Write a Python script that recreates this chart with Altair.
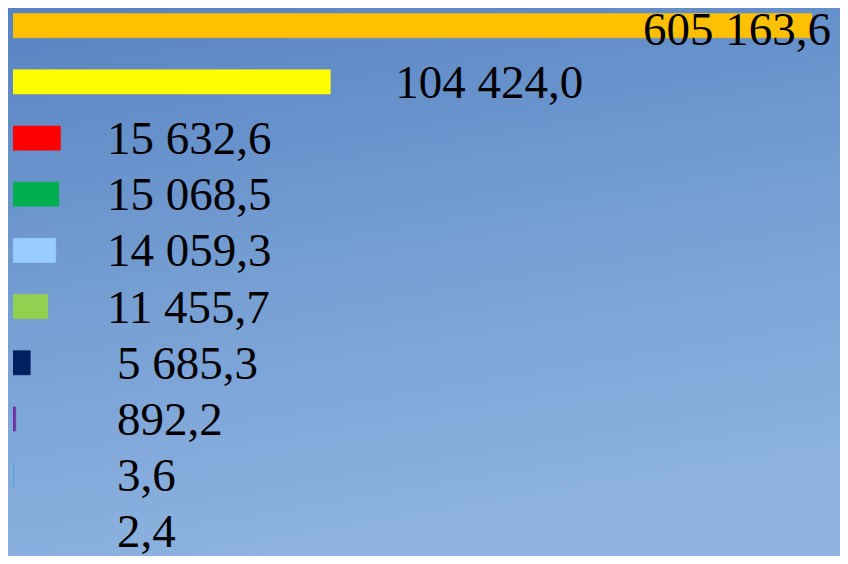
import altair as alt
import pandas as pd

rows = ["r1", "r2", "r3", "r4", "r5", "r6", "r7", "r8", "r9", "r10"]
values = [605163.6, 104424.0, 15632.6, 15068.5, 14059.3, 11455.7, 5685.3, 892.2, 3.6, 2.4]
labels = ["605 163,6", "104 424,0", "15 632,6", "15 068,5", "14 059,3", "11 455,7",
          "5 685,3", "892,2", "3,6", "2,4"]
colors = ["#ffc000", "#ffff00", "#ff0000", "#00b050", "#99ccff", "#92d050",
          "#002060", "#7030a0", "#00b0f0", "#8fb2de"]

df = pd.DataFrame({"row": rows, "value": values, "label": labels, "color": colors})

W, H = 799, 541
xscale = alt.Scale(domain=[0, 263000], nice=False, zero=True)
yscale = alt.Scale(paddingInner=0.57, paddingOuter=0.1)
y_enc = alt.Y("row:N", sort=rows, scale=yscale, axis=None)

bg = alt.Chart(pd.DataFrame({"a": [0]})).mark_rect(
    color=alt.LinearGradient(
        gradient="linear", x1=0, y1=0, x2=0.25, y2=1,
        stops=[alt.GradientStop(offset=0, color="#5682c2"),
               alt.GradientStop(offset=0.5, color="#749dd2"),
               alt.GradientStop(offset=1, color="#8eb3e0")]
    )
).encode(x=alt.value(-5), x2=alt.value(W + 45), y=alt.value(-10), y2=alt.value(H + 20))

bars = alt.Chart(df).mark_bar(clip=True, strokeWidth=0.6).encode(
    x=alt.X("value:Q", scale=xscale, axis=None),
    y=y_enc,
    color=alt.Color("color:N", scale=None),
    stroke=alt.Color("color:N", scale=None),
)

font = dict(font="Liberation Serif", fontSize=47, color="black", baseline="middle")

text_5 = alt.Chart(df).transform_filter("datum.value >= 10000 && datum.value < 50000").mark_text(
    align="left", dy=2, **font
).encode(x=alt.value(94), y=y_enc, text="label:N")

text_4 = alt.Chart(df).transform_filter("datum.value < 10000").mark_text(
    align="left", dy=2, **font
).encode(x=alt.value(104), y=y_enc, text="label:N")

text_mid = alt.Chart(df).transform_filter("datum.value >= 50000 && datum.value < 263000").mark_text(
    align="left", dx=65, dy=2, **font
).encode(x=alt.X("value:Q", scale=xscale, axis=None), y=y_enc, text="label:N")

text_big = alt.Chart(df).transform_filter("datum.value >= 263000").mark_text(
    align="left", dy=5, **font
).encode(x=alt.value(630), y=y_enc, text="label:N")

chart = alt.layer(bg, bars, text_5, text_4, text_mid, text_big).properties(
    width=W, height=H,
    autosize=alt.AutoSizeParams(type="none"),
    padding={"left": 5, "top": 0, "right": 28, "bottom": 7},
    background="#7aa0d4",
).configure_view(stroke=None)

chart.save("out.html", embed_options={"renderer": "svg", "actions": False})
